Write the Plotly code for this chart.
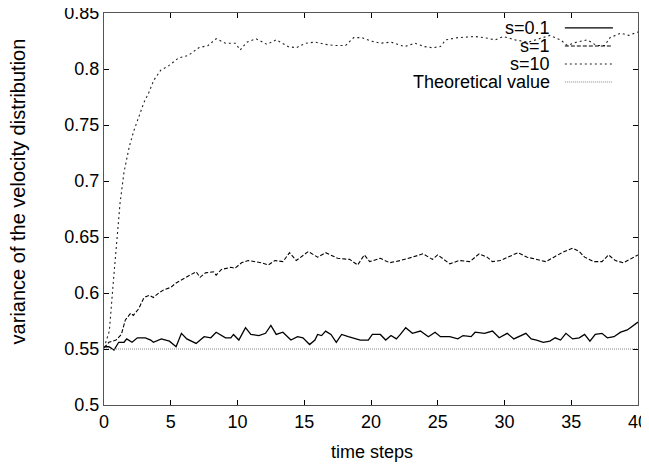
import plotly.graph_objects as go

# s = 0.1 (solid)
t_s01 = [0, 0.37, 0.75, 1.1, 1.5, 1.7, 2.1, 2.5, 3.1, 3.5, 3.7, 4.3, 4.9, 5.4, 5.8, 6.2, 6.9, 7.5,
         8.0, 8.4, 9.1, 9.5, 9.7, 10.1, 10.6, 11.0, 11.6, 12.1, 12.5, 12.9, 13.4, 14.0, 14.5, 14.9,
         15.4, 15.8, 16.0, 16.3, 16.6, 17.0, 17.4, 17.8, 18.3, 18.8, 19.2, 19.8, 20.1, 20.7, 21.1,
         21.5, 21.9, 22.2, 22.6, 23.1, 23.7, 24.3, 24.8, 25.2, 25.9, 26.5, 26.9, 27.5, 27.8, 28.5,
         29.1, 29.6, 30.2, 30.7, 31.1, 31.6, 32.0, 32.4, 32.9, 33.4, 33.8, 34.2, 34.6, 35.1, 35.6,
         36.0, 36.4, 36.8, 37.3, 37.7, 38.2, 38.7, 39.2, 39.7, 40.0]
v_s01 = [0.552, 0.552, 0.549, 0.556, 0.556, 0.559, 0.556, 0.560, 0.560, 0.558, 0.556, 0.559, 0.557,
         0.552, 0.564, 0.559, 0.555, 0.561, 0.560, 0.565, 0.560, 0.560, 0.563, 0.558, 0.569, 0.563,
         0.562, 0.564, 0.571, 0.563, 0.565, 0.558, 0.561, 0.560, 0.554, 0.558, 0.563, 0.562, 0.566,
         0.563, 0.556, 0.563, 0.561, 0.559, 0.558, 0.558, 0.563, 0.563, 0.558, 0.562, 0.559, 0.563,
         0.569, 0.564, 0.566, 0.561, 0.565, 0.561, 0.561, 0.559, 0.562, 0.561, 0.565, 0.564, 0.566,
         0.560, 0.564, 0.559, 0.561, 0.564, 0.559, 0.558, 0.556, 0.557, 0.560, 0.558, 0.564, 0.559,
         0.560, 0.563, 0.557, 0.563, 0.564, 0.560, 0.561, 0.565, 0.567, 0.571, 0.574]

# s = 1 (dashed)
t_s1 = [0, 0.37, 0.9, 1.3, 1.6, 2.0, 2.2, 2.6, 3.0, 3.4, 3.7, 4.1, 4.5, 5.0, 5.4, 6.0, 6.5, 6.9, 7.2,
        7.6, 8.2, 8.4, 8.8, 9.5, 9.8, 10.3, 10.8, 11.3, 11.8, 12.3, 12.8, 13.4, 13.9, 14.4, 15.3,
        16.0, 16.6, 17.5, 18.4, 19.0, 19.5, 19.9, 20.7, 21.4, 22.2, 23.1, 23.9, 24.6, 25.0, 25.9,
        26.6, 27.4, 28.1, 28.7, 29.1, 29.7, 30.4, 31.0, 31.7, 32.5, 33.1, 33.7, 34.3, 35.1, 35.6,
        36.0, 36.7, 37.3, 37.8, 38.3, 38.9, 39.7, 40.0]
v_s1 = [0.551, 0.556, 0.558, 0.563, 0.576, 0.582, 0.580, 0.586, 0.596, 0.598, 0.596, 0.600, 0.603,
        0.605, 0.609, 0.613, 0.616, 0.619, 0.614, 0.618, 0.619, 0.616, 0.621, 0.623, 0.622, 0.627,
        0.629, 0.628, 0.627, 0.625, 0.629, 0.628, 0.636, 0.629, 0.637, 0.632, 0.636, 0.631, 0.630,
        0.625, 0.634, 0.628, 0.631, 0.627, 0.629, 0.632, 0.635, 0.630, 0.634, 0.626, 0.629, 0.628,
        0.635, 0.632, 0.628, 0.629, 0.633, 0.636, 0.632, 0.630, 0.628, 0.632, 0.636, 0.640, 0.637,
        0.632, 0.628, 0.628, 0.634, 0.629, 0.627, 0.632, 0.634]

# s = 10 (dotted)
t_s10 = [0, 0.4, 0.7, 0.95, 1.2, 1.5, 1.9, 2.24, 2.61, 2.99, 3.36, 3.73, 4.25, 4.85, 5.6, 6.3, 7.1,
         7.8, 8.4, 9.1, 9.85, 10.2, 10.7, 11.4, 12.2, 12.9, 13.8, 14.4, 15.1, 15.8, 16.6, 17.3, 18.1,
         18.7, 19.3, 20.0, 20.7, 21.5, 22.5, 23.3, 24.0, 24.6, 25.2, 25.6, 26.5, 27.8, 28.5, 29.3,
         29.9, 30.8, 31.8, 32.6, 33.4, 34.2, 34.7, 35.4, 36.2, 36.9, 37.5, 37.9, 38.7, 39.3, 40.0]
v_s10 = [0.551, 0.566, 0.610, 0.645, 0.680, 0.708, 0.731, 0.745, 0.757, 0.770, 0.779, 0.790, 0.799,
         0.803, 0.810, 0.812, 0.819, 0.821, 0.827, 0.823, 0.823, 0.817, 0.824, 0.827, 0.822, 0.826,
         0.820, 0.819, 0.823, 0.824, 0.822, 0.821, 0.821, 0.828, 0.828, 0.825, 0.823, 0.824, 0.820,
         0.823, 0.820, 0.819, 0.820, 0.826, 0.828, 0.829, 0.828, 0.826, 0.829, 0.826, 0.824, 0.827,
         0.830, 0.826, 0.821, 0.824, 0.826, 0.821, 0.821, 0.828, 0.832, 0.830, 0.833]

# theoretical value
t_theory = [0, 40]
v_theory = [0.55, 0.55]

series_names = ["s=0.1", "s=1", "s=10", "Theoretical value"]
x_ticks = [0, 5, 10, 15, 20, 25, 30, 35, 40]
y_ticks = [0.5, 0.55, 0.6, 0.65, 0.7, 0.75, 0.8, 0.85]
y_labels = ["0.5", "0.55", "0.6", "0.65", "0.7", "0.75", "0.8", "0.85"]

styles = [
    dict(color="black", width=1.3, dash="solid"),
    dict(color="black", width=1.1, dash="4px,2px"),
    dict(color="#222222", width=1.1, dash="2px,3px"),
    dict(color="#888888", width=1, dash="1px,1px"),
]

fig = go.Figure()
for t, v, name, st in zip([t_s01, t_s1, t_s10, t_theory], [v_s01, v_s1, v_s10, v_theory],
                          series_names, styles):
    fig.add_trace(go.Scatter(x=t, y=v, mode="lines", name=name, line=st, showlegend=False))

# gnuplot-style key: text right-aligned, line sample to its right
row_y = [0.962, 0.916, 0.870, 0.824]
for name, st, yy in zip(series_names, styles, row_y):
    fig.add_annotation(x=0.839, y=yy, xref="paper", yref="paper", text=name, showarrow=False,
                       xanchor="right", yanchor="middle", font=dict(size=18, color="black"))
    fig.add_shape(type="line", xref="paper", yref="paper", x0=0.863, x1=0.953, y0=yy, y1=yy,
                  line=st)

# axis titles
fig.add_annotation(x=-0.161, y=0.545, xref="paper", yref="paper", showarrow=False,
                   text="variance of the velocity distribution", textangle=-90,
                   xanchor="center", yanchor="middle", font=dict(size=20, color="black"))
fig.add_annotation(x=0.502, y=-0.12, xref="paper", yref="paper", showarrow=False,
                   text="time steps", xanchor="center", yanchor="middle",
                   font=dict(size=18, color="black"))

axis_style = dict(showline=True, linecolor="#555555", linewidth=1, mirror="ticks",
                  ticks="inside", ticklen=5, tickcolor="black", showgrid=False, zeroline=False,
                  automargin=False, ticklabeloverflow="allow",
                  tickfont=dict(size=18, color="black"))

# the page body has an 8px margin, so the figure is 8px smaller than the window
fig.update_layout(
    width=641, height=458,
    paper_bgcolor="white", plot_bgcolor="white",
    font=dict(family="Liberation Sans, Arial, sans-serif", color="black", size=17),
    margin=dict(l=96, r=11, t=5, b=61),
    xaxis=dict(range=[0, 40], tickvals=x_ticks, **axis_style),
    yaxis=dict(range=[0.5, 0.85], tickvals=y_ticks, ticktext=y_labels, **axis_style),
)

fig.write_html("out.html")
